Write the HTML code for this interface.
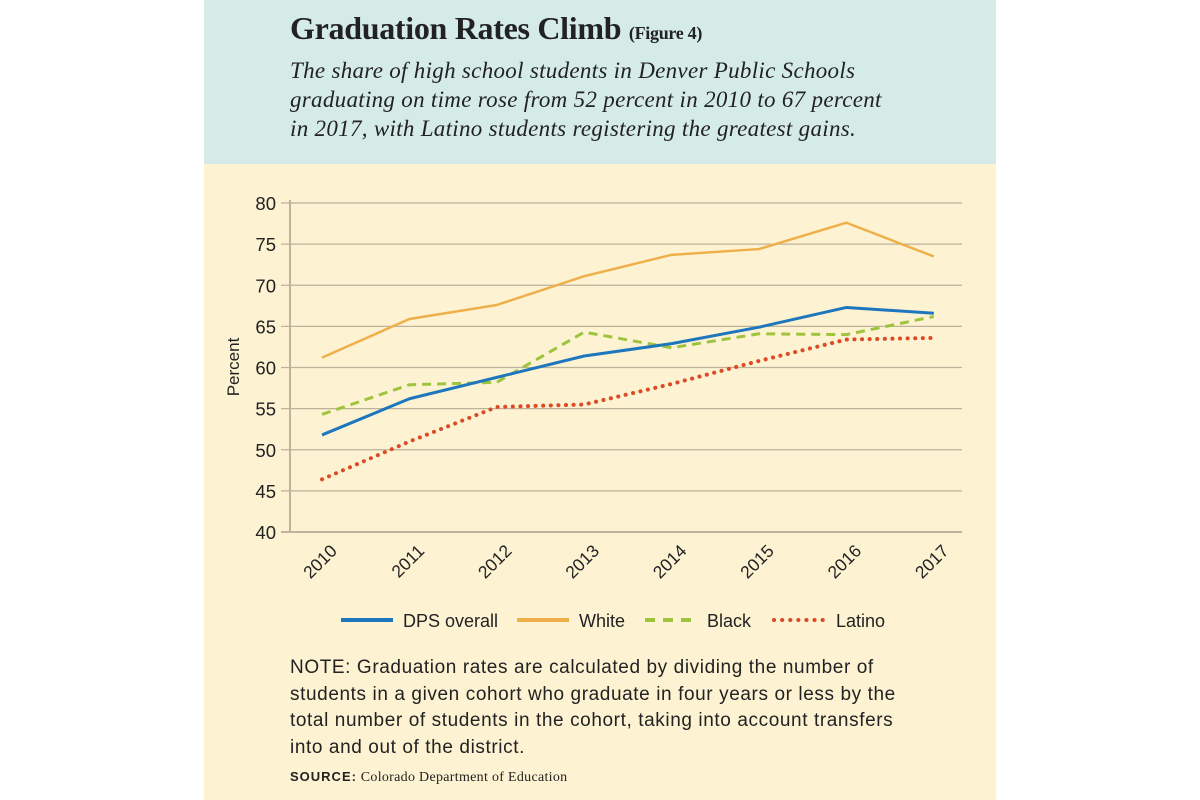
<!DOCTYPE html>
<html><head><meta charset="utf-8"><style>
body{margin:0;width:1200px;height:800px;background:#fff;position:relative;overflow:hidden}
#panel{position:absolute;left:204px;top:0;width:792px;height:800px;background:#fdf3d3}
#hdr{position:absolute;left:0;top:0;width:792px;height:164px;background:#d5ebe8}
h1{position:absolute;left:86px;top:10px;margin:0;font:bold 32px "Liberation Serif",serif;color:#222;letter-spacing:-0.3px;white-space:nowrap}
h1 span{font-size:18px}
#sub{position:absolute;left:86px;top:56px;font:italic 23px/29px "Liberation Serif",serif;color:#222;white-space:nowrap;letter-spacing:0.3px}
#note{position:absolute;left:86px;top:655px;font:19px/26.5px "Liberation Sans",sans-serif;color:#222;white-space:nowrap;letter-spacing:0.6px}
#src{position:absolute;left:86px;top:769px;font:14px "Liberation Serif",serif;color:#222;letter-spacing:0.3px}
#src b{font-family:"Liberation Sans",sans-serif;font-size:13px;letter-spacing:1px}
svg{position:absolute;left:0;top:0}
</style></head><body>
<div id="panel">
<div id="hdr">
<h1>Graduation Rates Climb <span>(Figure 4)</span></h1>
<div id="sub">The share of high school students in Denver Public Schools<br>graduating on time rose from 52 percent in 2010 to 67 percent<br>in 2017, with Latino students registering the greatest gains.</div>
</div>
<div id="note">NOTE: Graduation rates are calculated by dividing the number of<br>students in a given cohort who graduate in four years or less by the<br>total number of students in the cohort, taking into account transfers<br>into and out of the district.</div>
<div id="src"><b>SOURCE:</b> Colorado Department of Education</div>
</div>
<svg id="chart" width="1200" height="800"></svg>
<script>
const years=["2010","2011","2012","2013","2014","2015","2016","2017"];
const yTicks=[40,45,50,55,60,65,70,75,80];
const dps=[51.8,56.2,58.8,61.4,62.9,64.9,67.3,66.6];
const white=[61.2,65.9,67.6,71.1,73.7,74.4,77.6,73.5];
const black=[54.3,57.9,58.2,64.3,62.4,64.1,64.0,66.2];
const latino=[46.4,51.0,55.2,55.5,58.0,60.8,63.4,63.6];
const NS="http://www.w3.org/2000/svg",svg=document.getElementById('chart');
const x=i=>322+i*87.4, y=v=>532-(v-40)*(329/40);
function el(t,a,p){const e=document.createElementNS(NS,t);for(const k in a)e.setAttribute(k,a[k]);(p||svg).appendChild(e);return e;}
yTicks.forEach(v=>{
 const g=el('line',{x1:281,x2:962,y1:y(v),y2:y(v),stroke:'#bdb29a','stroke-width':v==40?2:1.3});
 
 
 const t=el('text',{x:276,y:y(v)+7,'text-anchor':'end','font-family':'Liberation Sans, sans-serif','font-size':18.5,fill:'#222'});
 t.textContent=v;
 
 
});
const ax=el('line',{x1:290,x2:290,y1:200,y2:533,stroke:'#bdb29a','stroke-width':2});


const yt=el('text',{transform:'translate(239,367) rotate(-90)','text-anchor':'middle','font-family':'Liberation Sans, sans-serif','font-size':17,fill:'#222'});
yt.textContent='Percent';


years.forEach((yr,i)=>{
 const t=el('text',{transform:`translate(${x(i)+16},${552}) rotate(-45)`,'text-anchor':'end','font-family':'Liberation Sans, sans-serif','font-size':17.5,fill:'#222'});
 t.textContent=yr;
 
 
});
const series=[
 {name:'white',d:white,c:'#eeb04a',dash:null,w:2.5},
 {name:'black',d:black,c:'#9dc43c',dash:'9 6',w:3},
 {name:'latino',d:latino,c:'#dc4b26',dash:'0.1 7.5',w:4,cap:'round'},
 {name:'dps-overall',d:dps,c:'#1e77bc',dash:null,w:3}
];
series.forEach(s=>{
 const p=el('polyline',{points:s.d.map((v,i)=>x(i)+','+y(v)).join(' '),fill:'none',stroke:s.c,'stroke-width':s.w,'stroke-linejoin':'round'});
 if(s.dash)p.setAttribute('stroke-dasharray',s.dash);
 if(s.cap)p.setAttribute('stroke-linecap',s.cap);
 
 
});
const leg=[['DPS overall','#1e77bc',null,4,341,403],['White','#eeb04a',null,4,517,579],['Black','#9dc43c','10 8',4,645,707],['Latino','#dc4b26','0.1 8',4,774,836]];
leg.forEach(l=>{
 const g=el('g',{});
 
 
 const ln=el('line',{x1:l[4],x2:l[4]+52,y1:620,y2:620,stroke:l[1],'stroke-width':l[3]},g);
 if(l[2]){ln.setAttribute('stroke-dasharray',l[2]);}
 if(l[0]=='Latino')ln.setAttribute('stroke-linecap','round');
 const t=el('text',{x:l[5],y:627,'font-family':'Liberation Sans, sans-serif','font-size':18,fill:'#222'},g);
 t.textContent=l[0];
});
</script>
</body></html>
